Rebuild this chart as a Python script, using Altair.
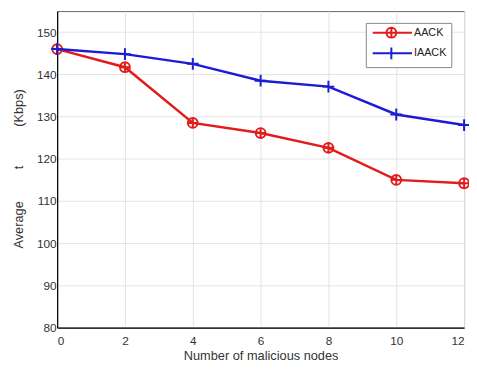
import altair as alt
import pandas as pd

nodes = [0, 2, 4, 6, 8, 10, 12]
aack = [146.0, 141.7, 128.5, 126.1, 122.6, 115.0, 114.2]
iaack = [146.0, 144.8, 142.5, 138.5, 137.1, 130.5, 128.0]
series = ["AACK", "IAACK"]
colors = ["#e31b1b", "#1c1cd4"]
y_ticks = [80, 90, 100, 110, 120, 130, 140, 150]

df = pd.DataFrame({
    "nodes": nodes * 2,
    "value": aack + iaack,
    "series": [series[0]] * len(nodes) + [series[1]] * len(nodes),
})

circle_plus = "M1,0A1,1 0 1,1 -1,0A1,1 0 1,1 1,0M-1,0H1M0,-1V1"
plus = "M-1.2,0H1.2M0,-1.2V1.2"
leg_aack = "M-0.6,0H7.4M4.2,0A1,1 0 1,1 2.2,0A1,1 0 1,1 4.2,0M3.2,-1V1"
leg_iaack = "M-0.6,0H7.4M3.2,-1.2V1.2"

FONT = "Liberation Sans"
ytitle = "Average" + "\u00a0" * 9 + "t" + "\u00a0" * 11 + "(Kbps)"

x = alt.X("nodes:Q", scale=alt.Scale(domain=[0, 12], nice=False),
          axis=alt.Axis(values=nodes, title="Number of malicious nodes", format="d",
                        labelPadding=8, ticks=False, titlePadding=3))
y = alt.Y("value:Q", scale=alt.Scale(domain=[80, 155], nice=False, zero=False),
          axis=alt.Axis(values=y_ticks, title=ytitle, labelPadding=1, ticks=False,
                        titleX=-32, titleY=160, titleBaseline="bottom", titleAngle=270))
legend = alt.Legend(
    title=None, orient="none", legendX=314, legendY=12,
    fillColor="white", strokeColor="#888", padding=4, cornerRadius=0,
    symbolSize=100, symbolStrokeWidth=2, symbolOpacity=1, labelOffset=33, rowPadding=2,
    labelFontSize=11, labelFont=FONT, labelColor="#222",
    labelExpr="datum.label + '\u00a0\u00a0\u00a0\u00a0'",
)
color = alt.Color("series:N", scale=alt.Scale(domain=series, range=colors), legend=legend)
shape = alt.Shape("series:N", scale=alt.Scale(domain=series, range=[leg_aack, leg_iaack]), legend=legend)

base = alt.Chart(df)
lines = base.mark_line(strokeWidth=2.5).encode(x=x, y=y, color=color)
pts_a = base.transform_filter(alt.datum.series == series[0]).mark_point(
    filled=False, strokeWidth=2, size=100, opacity=1, shape=circle_plus).encode(x=x, y=y, color=color)
pts_b = base.transform_filter(alt.datum.series == series[1]).mark_point(
    filled=False, strokeWidth=2, size=100, opacity=1, shape=plus).encode(x=x, y=y, color=color)
leg_layer = base.transform_filter(alt.datum.nodes < 0).mark_point(
    filled=False, strokeWidth=2, size=100, opacity=1).encode(x=x, y=y, color=color, shape=shape)

chart = (lines + pts_a + pts_b + leg_layer).properties(
    width=414, height=322,
    autosize=alt.AutoSizeParams(type="none"),
    padding={"left": 50, "top": 0, "right": 5, "bottom": 40},
).configure_view(stroke="#666", strokeWidth=1).configure_axis(
    grid=True, gridColor="#e3e3e3", gridWidth=1,
    domainColor="black", domainWidth=1.2,
    labelFont=FONT, labelFontSize=12, labelColor="#333",
    titleFont=FONT, titleFontSize=13, titleFontWeight="normal", titleColor="#333",
)

chart.save("out.html", embed_options={"renderer": "svg", "actions": False})
